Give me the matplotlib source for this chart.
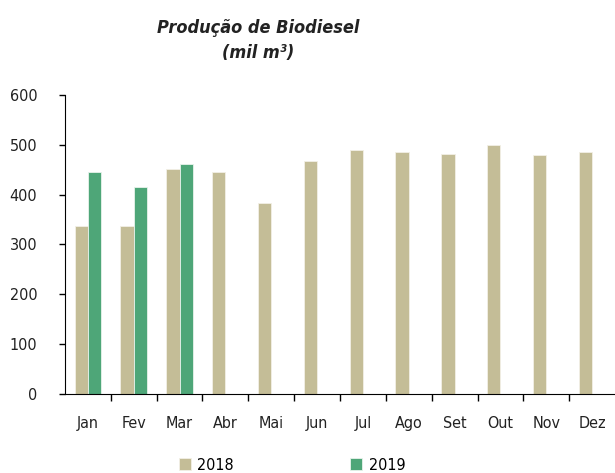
import matplotlib
matplotlib.use('Agg')
import matplotlib.pyplot as plt
import numpy as np

plt.rcParams['font.family'] = ['DejaVu Sans']
plt.rcParams['font.stretch'] = 'condensed'

# Dados
meses = ['Jan', 'Fev', 'Mar', 'Abr', 'Mai', 'Jun', 'Jul', 'Ago', 'Set', 'Out', 'Nov', 'Dez']
prod_2018 = [337, 338, 452, 446, 383, 467, 490, 486, 482, 500, 479, 486]
prod_2019 = [445, 415, 461]

cor_2018 = '#C4BD97'
cor_2019 = '#4EA678'

fig = plt.figure(figsize=(6.15, 4.73), dpi=100)
ax = fig.add_axes([65 / 615, 1 - 394 / 473, 550 / 615, 299 / 473])

x = np.arange(len(meses))
w = 0.29
ax.bar(x - w / 2, prod_2018, width=w, color=cor_2018, edgecolor='#F2F0E6', linewidth=0.6, label='2018')
ax.bar(x[:len(prod_2019)] + w / 2, prod_2019, width=w, color=cor_2019, edgecolor='#E8F3EC', linewidth=0.6, label='2019')

ax.set_xlim(-0.5, len(meses) - 0.5)
ax.set_ylim(0, 600)
ax.set_yticks(range(0, 601, 100))
ax.set_xticks(x)
ax.set_xticklabels(meses)
ax.set_xticks(np.arange(0.5, len(meses) - 0.5, 1), minor=True)
ax.tick_params(axis='x', which='major', length=0, pad=16, labelsize=11.5, labelcolor='#222222')
ax.tick_params(axis='x', which='minor', length=5, width=1, direction='out')
ax.tick_params(axis='y', length=4, width=1, direction='out', pad=16, labelsize=11.5, labelcolor='#222222')

ax.spines['top'].set_visible(False)
ax.spines['right'].set_visible(False)

fig.text(258 / 615, 1 - 28 / 473, 'Produção de Biodiesel', ha='center', va='center',
         fontsize=13, fontweight='bold', style='italic', color='#222222')
fig.text(258 / 615, 1 - 53 / 473, '(mil m³)', ha='center', va='center',
         fontsize=13, fontweight='bold', style='italic', color='#222222')

fig.legend(loc='center', bbox_to_anchor=(292 / 615, 1 - 465 / 473), ncol=2, frameon=False,
           fontsize=11.5, handlelength=0.75, handleheight=0.75, handletextpad=0.4, columnspacing=7.3)

fig.savefig('out.png', dpi=100)
